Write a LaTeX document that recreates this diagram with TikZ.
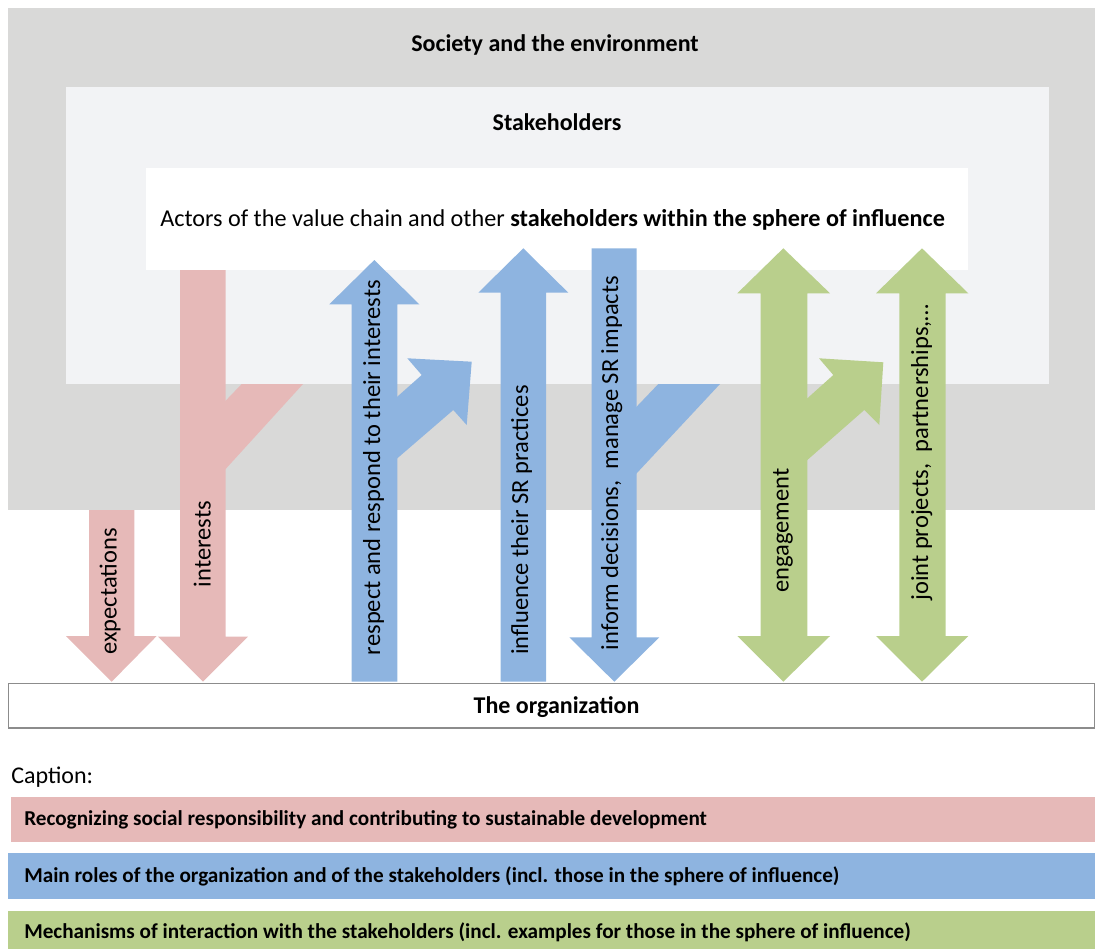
\documentclass[tikz,border=0pt]{standalone}
\usepackage{fontspec}
\setmainfont{Carlito}
\definecolor{bggray}{HTML}{D9D9D8}
\definecolor{stakec}{HTML}{F2F3F5}
\definecolor{redc}{HTML}{E6B9B8}
\definecolor{bluec}{HTML}{8EB4E0}
\definecolor{greenc}{HTML}{B9CF8C}
\definecolor{bordc}{HTML}{8C8C8C}
\tikzset{
  bigtxt/.style={inner sep=0pt, anchor=base, font=\fontsize{18}{21}\selectfont},
  arrtxt/.style={inner sep=0pt, anchor=base, rotate=90, font=\fontsize{18.4}{22}\selectfont},
  captxt/.style={inner sep=0pt, anchor=base west, font=\fontsize{15.9}{18}\selectfont\bfseries},
  redarrow/.style={fill=redc},
  bluearrow/.style={fill=bluec},
  greenarrow/.style={fill=greenc},
}
\begin{document}
\begin{tikzpicture}[x=0.75pt,y=-0.75pt]
\useasboundingbox (0,0) rectangle (1095,949);
% background boxes
\fill[bggray] (8.3,8) rectangle (1095,510);
\fill[stakec] (65.7,87.3) rectangle (1049,384);
\fill[white] (146,168) rectangle (968,270);
\draw[bordc, line width=0.8pt] (8.4,683.3) rectangle (1094.6,728);
\fill[redc] (10.5,797) rectangle (1095,842);
\fill[bluec] (8.4,853) rectangle (1095,899);
\fill[greenc] (8.4,911) rectangle (1095,949);

% texts
\node[bigtxt, font=\fontsize{18}{21}\selectfont\bfseries] (society) at (555,51.5) {Society and the environment};
\node[bigtxt, font=\fontsize{18}{21}\selectfont\bfseries] (stake) at (557,130) {Stakeholders};
\node[bigtxt, anchor=base west, font=\fontsize{18.15}{21}\selectfont] (actors) at (160,226.5) {Actors of the value chain and other \textbf{stakeholders within the sphere of influence}};
\node[bigtxt, font=\fontsize{18}{21}\selectfont\bfseries] (org) at (556.5,713) {The organization};
\node[bigtxt, anchor=base west] (caption) at (11,783) {Caption:};
\node[captxt] (cap1) at (24,825.5) {Recognizing social responsibility and contributing to sustainable development};
\node[captxt] (cap2) at (24,882) {Main roles of the organization and of the stakeholders (incl. those in the sphere of influence)};
\node[captxt] (cap3) at (24,938) {Mechanisms of interaction with the stakeholders (incl. examples for those in the sphere of influence)};

% red arrows
\fill[redarrow] (89,510) -- (134.3,510) -- (134.3,636) -- (156.7,636) -- (111.7,681.7) -- (66,636) -- (89,636) -- cycle;
\fill[redarrow] (180,270) -- (225.7,270) -- (225.7,636.7) -- (248,636.7) -- (203,681.7) -- (158,636.7) -- (180,636.7) -- cycle;
\fill[redarrow] (222,404.5) -- (241.7,384) -- (303,384) -- (222,473) -- cycle;

% blue arrows
\fill[bluearrow] (351.7,681.7) -- (351.7,304.3) -- (329.3,304.3) -- (374.3,260) -- (419.3,304.3) -- (397.3,304.3) -- (397.3,681.7) -- cycle;
\fill[bluearrow] (393,400.5) -- (421.7,375) -- (407.3,358.3) -- (471.7,361.7) -- (466.7,425) -- (453.3,410) -- (393,462) -- cycle;
\fill[bluearrow] (500.7,681.7) -- (500.7,292.7) -- (478.3,292.7) -- (523.3,248.3) -- (568.3,292.7) -- (546,292.7) -- (546,681.7) -- cycle;
\fill[bluearrow] (591.7,248.3) -- (636.7,248.3) -- (636.7,637.3) -- (659.3,637.3) -- (614.3,681.7) -- (569.3,637.3) -- (591.7,637.3) -- cycle;
\fill[bluearrow] (632,411.5) -- (658.3,384) -- (720,384) -- (632,478.3) -- cycle;

% green arrows
\fill[greenarrow] (760.7,293.3) -- (737.3,293.3) -- (783.3,248.3) -- (830,293.3) -- (807.3,293.3) -- (807.3,636) -- (830,636) -- (783.3,681.7) -- (737.3,636) -- (760.7,636) -- cycle;
\fill[greenarrow] (803,402.2) -- (833.3,375) -- (819,358.3) -- (883.3,362.3) -- (879.3,425) -- (864.3,410) -- (803,463.8) -- cycle;
\fill[greenarrow] (899.3,293.3) -- (876,293.3) -- (922,248.3) -- (968.3,293.3) -- (945.7,293.3) -- (945.7,636) -- (968.3,636) -- (922,681.7) -- (876,636) -- (899.3,636) -- cycle;

% arrow labels
\node[arrtxt] (lexp) at (116.5,591.5) {expectations};
\node[arrtxt] (lint) at (210.5,544) {interests};
\node[arrtxt] (lresp) at (380,467.5) {respect and respond to their interests};
\node[arrtxt] (linfl) at (528,520) {influence their SR practices};
\node[arrtxt] (linfo) at (618,463) {inform decisions,\ \ manage SR impacts};
\node[arrtxt] (leng) at (788.5,530.5) {engagement};
\node[arrtxt] (ljoint) at (928,452.5) {joint projects,\ \ partnerships,…};
\end{tikzpicture}
\end{document}
